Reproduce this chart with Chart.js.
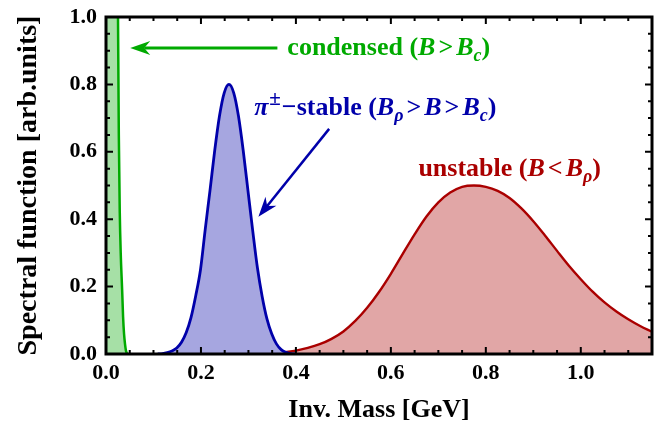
<!DOCTYPE html>
<html>
<head>
<meta charset="utf-8">
<script src="https://cdn.jsdelivr.net/npm/chart.js@4.4.0/dist/chart.umd.min.js"></script>
<style>
  html, body { margin: 0; padding: 0; background: #fff; }
  #wrap { width: 663px; height: 431px; }
</style>
</head>
<body>
<div id="wrap"><canvas id="spectral" width="663" height="431"></canvas></div>
<script>
// condensed phase (B > Bc): sharp peak at the origin
const condensedMass = [0.000, 0.020, 0.026, 0.027, 0.029, 0.031, 0.034, 0.036, 0.038, 0.040, 0.042, 0.045];
const condensedSpec = [3.000, 2.000, 0.850, 0.650, 0.420, 0.300, 0.190, 0.110, 0.060, 0.030, 0.010, 0.000];

// pi-stable phase
const stableMass = [0.109, 0.119, 0.129, 0.139, 0.149, 0.159, 0.169, 0.179, 0.189, 0.199, 0.209, 0.219,
                    0.229, 0.239, 0.249, 0.259, 0.269, 0.279, 0.289, 0.299, 0.309, 0.319, 0.329,
                    0.339, 0.349, 0.359, 0.369, 0.379, 0.389, 0.399];
const stableSpec = [0.000, 0.001, 0.004, 0.009, 0.018, 0.035, 0.064, 0.108, 0.173, 0.250, 0.370, 0.485,
                    0.604, 0.706, 0.775, 0.800, 0.775, 0.706, 0.604, 0.485, 0.366, 0.255, 0.170,
                    0.104, 0.060, 0.030, 0.013, 0.005, 0.001, 0.000];

// unstable phase (B < B_rho)
const unstableMass = [0.300, 0.350, 0.400, 0.425, 0.450, 0.475, 0.500, 0.525, 0.550, 0.575, 0.600, 0.625,
                      0.650, 0.675, 0.700, 0.725, 0.750, 0.775, 0.800, 0.825, 0.850, 0.875, 0.900, 0.925,
                      0.950, 0.975, 1.000, 1.025, 1.050, 1.075, 1.100, 1.125, 1.150];
const unstableSpec = [0.000, 0.002, 0.010, 0.018, 0.029, 0.045, 0.067, 0.098, 0.137, 0.184, 0.238, 0.297,
                      0.355, 0.408, 0.450, 0.479, 0.496, 0.500, 0.496, 0.484, 0.463, 0.432, 0.394, 0.351,
                      0.306, 0.262, 0.222, 0.185, 0.153, 0.126, 0.103, 0.083, 0.066];

const xTickLabels = ['0.0', '0.2', '0.4', '0.6', '0.8', '1.0'];
const yTickLabels = ['0.0', '0.2', '0.4', '0.6', '0.8', '1.0'];

const toPoints = (xs, ys) => xs.map((x, i) => ({ x: x, y: ys[i] }));
const isMajor = v => Math.abs(v / 0.2 - Math.round(v / 0.2)) < 1e-6;
const majorLabel = (labels) => (v) => isMajor(v) ? labels[Math.round(v / 0.2)] : '';

const SERIF = '"Liberation Serif", "DejaVu Serif", serif';

// annotation texts, split into styled pieces ('op' gets a little air on both sides)
const notes = [
    { color: '#00aa00', at: [0.382, 0.887], parts: [
        ['condensed (', ''], ['B', 'i'], ['>', 'op'], ['B', 'i'], ['c', 'isub'], [')', '']] },
    { color: '#0000aa', at: [0.312, 0.709], parts: [
        ['π', 'i'], ['±', 'sup'], ['\u2212', ''], ['stable (', ''], ['B', 'i'], ['ρ', 'isub'], ['>', 'op'], ['B', 'i'],
        ['>', 'op'], ['B', 'i'], ['c', 'isub'], [')', '']] },
    { color: '#aa0000', at: [0.658, 0.528], parts: [
        ['unstable (', ''], ['B', 'i'], ['<', 'op'], ['B', 'i'], ['ρ', 'isub'], [')', '']] }
];
const arrows = [
    { color: '#00aa00', from: [0.361, 0.908], to: [0.051, 0.908], width: 3 },
    { color: '#0000aa', from: [0.470, 0.668], to: [0.321, 0.407], width: 2.5 }
];

const frameAndNotes = {
    id: 'frameAndNotes',
    afterDraw(chart) {
        const ctx = chart.ctx;
        const xs = chart.scales.x, ys = chart.scales.y;
        const { left, right, top, bottom } = chart.chartArea;
        ctx.save();
        ctx.strokeStyle = '#000';
        ctx.lineWidth = 2;
        xs.ticks.forEach(t => {
            const px = xs.getPixelForValue(t.value);
            const len = isMajor(t.value) ? 7 : 4;
            ctx.beginPath();
            ctx.moveTo(px, bottom); ctx.lineTo(px, bottom - len);
            ctx.moveTo(px, top); ctx.lineTo(px, top + len);
            ctx.stroke();
        });
        ys.ticks.forEach(t => {
            const py = ys.getPixelForValue(t.value);
            const len = isMajor(t.value) ? 7 : 4;
            ctx.beginPath();
            ctx.moveTo(left, py); ctx.lineTo(left + len, py);
            ctx.moveTo(right, py); ctx.lineTo(right - len, py);
            ctx.stroke();
        });
        ctx.lineWidth = 3;
        ctx.strokeRect(left, top, right - left, bottom - top);

        // arrows
        arrows.forEach(a => {
            const x0 = xs.getPixelForValue(a.from[0]), y0 = ys.getPixelForValue(a.from[1]);
            const x1 = xs.getPixelForValue(a.to[0]), y1 = ys.getPixelForValue(a.to[1]);
            const ang = Math.atan2(y1 - y0, x1 - x0);
            const headLen = 20, half = 7, notch = 14;
            ctx.strokeStyle = a.color;
            ctx.fillStyle = a.color;
            ctx.lineWidth = a.width;
            ctx.beginPath();
            ctx.moveTo(x0, y0);
            ctx.lineTo(x1 - Math.cos(ang) * notch, y1 - Math.sin(ang) * notch);
            ctx.stroke();
            const bx = x1 - Math.cos(ang) * headLen, by = y1 - Math.sin(ang) * headLen;
            const nx = -Math.sin(ang), ny = Math.cos(ang);
            ctx.beginPath();
            ctx.moveTo(x1, y1);
            ctx.lineTo(bx + nx * half, by + ny * half);
            ctx.lineTo(x1 - Math.cos(ang) * notch, y1 - Math.sin(ang) * notch);
            ctx.lineTo(bx - nx * half, by - ny * half);
            ctx.closePath();
            ctx.fill();
        });

        // labels
        ctx.textBaseline = 'alphabetic';
        ctx.textAlign = 'left';
        notes.forEach(n => {
            let x = xs.getPixelForValue(n.at[0]);
            const y = ys.getPixelForValue(n.at[1]);
            ctx.fillStyle = n.color;
            n.parts.forEach(([txt, st]) => {
                let size = 26, dy = 0, style = 'bold', pad = 0;
                if (st === 'i') style = 'italic bold';
                if (st === 'isub') { style = 'italic bold'; size = 18; dy = 6; }
                if (st === 'sup') { size = 21; dy = -10; pad = 1; }
                if (st === 'op') pad = 3;
                ctx.font = style + ' ' + size + 'px ' + SERIF;
                x += pad;
                ctx.fillText(txt, x, y + dy);
                x += ctx.measureText(txt).width + pad;
            });
        });
        ctx.restore();
    }
};

const ctx = document.getElementById('spectral').getContext('2d');
new Chart(ctx, {
    type: 'line',
    data: {
        datasets: [
            {
                label: 'condensed',
                data: toPoints(condensedMass, condensedSpec),
                borderColor: '#00aa00',
                backgroundColor: 'rgb(166,224,166)',
                borderWidth: 2.5,
                fill: 'origin',
                pointRadius: 0,
                cubicInterpolationMode: 'monotone'
            },
            {
                label: 'pi-stable',
                data: toPoints(stableMass, stableSpec),
                borderColor: '#0000aa',
                backgroundColor: 'rgb(166,166,224)',
                borderWidth: 2.8,
                fill: 'origin',
                pointRadius: 0,
                cubicInterpolationMode: 'monotone'
            },
            {
                label: 'unstable',
                data: toPoints(unstableMass, unstableSpec),
                borderColor: '#aa0000',
                backgroundColor: 'rgb(225,166,166)',
                borderWidth: 2.4,
                fill: 'origin',
                pointRadius: 0,
                cubicInterpolationMode: 'monotone'
            }
        ]
    },
    options: {
        responsive: false,
        animation: false,
        devicePixelRatio: 1,
        layout: { padding: { top: 17, right: 11, left: 0, bottom: 0 } },
        plugins: {
            legend: { display: false },
            tooltip: { enabled: false }
        },
        scales: {
            x: {
                type: 'linear',
                min: 0,
                max: 1.15,
                grid: { display: false, drawTicks: false },
                border: { display: false },
                ticks: {
                    stepSize: 0.05,
                    autoSkip: false,
                    maxRotation: 0,
                    padding: 6,
                    color: '#000',
                    font: { family: SERIF, size: 22, weight: 'bold' },
                    callback: majorLabel(xTickLabels)
                },
                title: {
                    display: true,
                    text: 'Inv. Mass [GeV]',
                    color: '#000',
                    font: { family: SERIF, size: 26, weight: 'bold' },
                    padding: { top: 0, bottom: 5 }
                },
                afterFit: s => { s.height = 77; }
            },
            y: {
                min: 0,
                max: 1,
                grid: { display: false, drawTicks: true, tickLength: 6 },
                border: { display: false },
                ticks: {
                    stepSize: 0.05,
                    autoSkip: false,
                    padding: 3,
                    color: '#000',
                    font: { family: SERIF, size: 22, weight: 'bold' },
                    callback: majorLabel(yTickLabels)
                },
                title: {
                    display: true,
                    text: 'Spectral function [arb.units]',
                    color: '#000',
                    font: { family: SERIF, size: 28, weight: 'bold' },
                    padding: { top: 12, bottom: 0 }
                },
                afterFit: s => { s.width = 106; }
            }
        }
    },
    plugins: [frameAndNotes]
});
</script>
</body>
</html>
